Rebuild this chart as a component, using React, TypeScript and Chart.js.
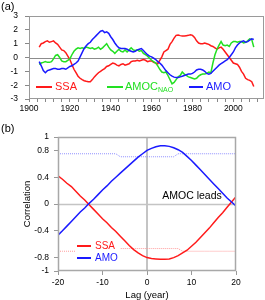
import React, { useEffect, useRef } from "react";
import { Chart, registerables } from "chart.js";

Chart.register(...registerables);

const FONT = "'Liberation Sans', Arial, Helvetica, sans-serif";

// ---------- Panel (a): time series 1905-2010 ----------
const START_YEAR = 1905;
const SSA_TS = [
  0.75, 1.0, 1.05, 1.15, 1.2, 1.1, 1.15, 1.2, 1.05, 0.95,
  0.75, 0.55, 0.5, 0.35, 0.1, -0.15, -0.5, -0.85, -1.1, -1.35,
  -1.5, -1.6, -1.68, -1.72, -1.75, -1.75, -1.6, -1.4, -1.25, -1.1,
  -1.0, -0.9, -0.8, -0.65, -0.6, -0.5, -0.4, -0.45, -0.55, -0.6,
  -0.5, -0.45, -0.55, -0.5, -0.45, -0.3, -0.25, -0.25, -0.2, -0.25,
  -0.2, -0.15, -0.2, -0.3, -0.25, -0.25, -0.35, -0.4, -0.45, -0.2,
  0.05, 0.4, 0.5, 0.6, 0.95, 1.15, 1.4, 1.6, 1.62, 1.58,
  1.55, 1.55, 1.58, 1.6, 1.65, 1.6, 1.45, 1.2, 1.05, 1.0,
  1.0, 1.05, 1.0, 0.95, 0.85, 0.8, 0.7, 0.6, 0.7, 0.75,
  0.6, 0.4, 0.2, 0.0, -0.2, -0.4, -0.45, -0.5, -0.7, -1.0,
  -1.2, -1.5, -1.6, -1.65, -1.75, -2.1,
];
const AMOC_NAO_TS = [
  -0.5, -0.4, -0.35, -0.3, -0.35, -0.35, -0.3, -0.1, 0.15, 0.2,
  0.0, -0.25, -0.3, -0.3, -0.2, -0.1, 0.2, 0.45, 0.6, 0.7,
  0.65, 0.7, 0.65, 0.75, 0.7, 0.65, 0.7, 0.6, 0.65, 0.75,
  0.6, 0.7, 0.85, 1.0, 0.75, 0.55, 0.45, 0.3, 0.45, 0.6,
  0.45, 0.4, 0.55, 0.4, 0.55, 0.7, 0.55, 0.5, 0.55, 0.45,
  0.5, 0.3, 0.2, 0.1, -0.05, -0.2, -0.3, -0.4, -0.6, -0.85,
  -1.05, -1.1, -1.05, -1.3, -1.6, -1.9, -1.8, -1.6, -1.4, -1.3,
  -1.05, -1.2, -1.3, -1.4, -1.45, -1.5, -1.55, -1.5, -1.35, -1.25,
  -1.2, -1.2, -1.15, -1.05, -1.1, -0.4, 0.2, 0.6, 0.9, 1.15,
  0.9, 0.85, 0.9, 0.8, 1.05, 1.15, 1.15, 1.1, 1.15, 1.15,
  1.05, 1.1, 1.2, 1.35, 1.3, 0.75,
];
const AMO_TS = [
  -0.3, -0.6, -0.95, -1.1, -0.95, -0.9, -0.85, -0.8, -0.8, -0.85,
  -0.85, -0.8, -0.8, -0.85, -0.75, -0.65, -0.6, -0.5, -0.4, -0.25,
  0.05, 0.35, 0.65, 0.85, 1.0, 1.1, 1.3, 1.45, 1.6, 1.75,
  1.9, 1.95, 1.8, 1.85, 1.75, 1.5, 1.3, 1.05, 0.85, 0.7,
  0.65, 0.65, 0.65, 0.6, 0.5, 0.45, 0.4, 0.45, 0.55, 0.6,
  0.65, 0.5, 0.35, 0.2, 0.1, 0.05, -0.05, -0.15, -0.3, -0.4,
  -0.55, -0.75, -0.95, -1.1, -1.25, -1.35, -1.42, -1.45, -1.45, -1.4,
  -1.35, -1.3, -1.25, -1.2, -1.2, -1.15, -1.05, -0.9, -0.85, -0.85,
  -0.9, -1.0, -1.15, -1.2, -1.15, -1.0, -0.85, -0.7, -0.55, -0.45,
  -0.35, -0.25, -0.15, 0.0, 0.2, 0.4, 0.7, 0.9, 1.05, 1.15,
  1.2, 1.1, 1.15, 1.25, 1.35, 1.3,
];
const YEARS = SSA_TS.map((_, i) => START_YEAR + i);
const YEAR_LABELS = [1900, 1920, 1940, 1960, 1980, 2000];
const YEAR_TICK_STEP = 4;

// ---------- Panel (b): lag correlation ----------
const LAGS = [
  -20, -19, -18, -17, -16, -15, -14, -13, -12, -11, -10, -9, -8, -7, -6, -5, -4, -3, -2, -1,
  0, 1, 2, 3, 4, 5, 6, 7, 8, 9, 10, 11, 12, 13, 14, 15, 16, 17, 18, 19, 20,
];
const SSA_CORR = [
  0.42, 0.37, 0.31, 0.26, 0.19, 0.12, 0.06, -0.01, -0.08, -0.15,
  -0.22, -0.28, -0.35, -0.41, -0.48, -0.55, -0.62, -0.68, -0.73, -0.77,
  -0.8, -0.815, -0.82, -0.825, -0.825, -0.82, -0.8, -0.77, -0.73, -0.69,
  -0.63, -0.57, -0.5, -0.43, -0.36, -0.28, -0.2, -0.13, -0.05, 0.03, 0.11,
];
const AMO_CORR = [
  -0.465, -0.4, -0.33, -0.26, -0.19, -0.12, -0.06, 0.01, 0.07, 0.14,
  0.21, 0.27, 0.34, 0.4, 0.46, 0.52, 0.58, 0.64, 0.7, 0.75,
  0.8, 0.83, 0.855, 0.87, 0.87, 0.86, 0.84, 0.81, 0.77, 0.71,
  0.65, 0.58, 0.51, 0.44, 0.37, 0.3, 0.23, 0.16, 0.09, 0.03, -0.03,
];
const AMO_SIG = [
  0.75, 0.75, 0.75, 0.75, 0.75, 0.75, 0.75, 0.75, 0.75, 0.75,
  0.75, 0.75, 0.75, 0.75, 0.705, 0.705, 0.705, 0.705, 0.705, 0.705,
  0.705, 0.705, 0.705, 0.705, 0.705, 0.705, 0.705, 0.75, 0.75, 0.75,
  0.75, 0.75, 0.75, 0.75, 0.75, 0.75, 0.75, 0.75, 0.75, 0.75, 0.75,
];
const SSA_SIG = [
  -0.705, -0.705, -0.705, -0.705, -0.705, -0.705, -0.705, -0.705, -0.705, -0.705,
  -0.705, -0.705, -0.705, -0.665, -0.665, -0.665, -0.665, -0.665, -0.665, -0.665,
  -0.665, -0.665, -0.665, -0.665, -0.665, -0.665, -0.665, -0.665, -0.705, -0.705,
  -0.705, -0.705, -0.705, -0.705, -0.705, -0.705, -0.705, -0.705, -0.705, -0.705, -0.705,
];
const CORR_TICKS = [-1, -0.8, -0.4, 0, 0.4, 0.8, 1];
const LAG_TICKS = [-20, -10, 0, 10, 20];

const RED = "#ff1a1a";
const GREEN = "#22e022";
const BLUE = "#1a1aff";

const pts = (xs: number[], ys: number[]) => xs.map((x, i) => ({ x, y: ys[i] }));

const tickFont = { family: FONT, size: 8.5 };

const topDecor = {
  id: "topDecor",
  beforeDatasetsDraw(chart: any) {
    const { ctx, chartArea, scales } = chart;
    const y0 = Math.round(scales.y.getPixelForValue(0)) + 0.5;
    ctx.save();
    ctx.strokeStyle = "#8c8c8c";
    ctx.lineWidth = 1;
    ctx.beginPath();
    ctx.moveTo(chartArea.left, y0);
    ctx.lineTo(chartArea.right, y0);
    ctx.stroke();
    ctx.restore();
  },
  afterDraw(chart: any) {
    const { ctx, chartArea } = chart;
    const { left, right, top, bottom } = chartArea;
    ctx.save();
    ctx.strokeStyle = "#9a9a9a";
    ctx.lineWidth = 1;
    ctx.strokeRect(left + 0.5, top + 0.5, right - left - 1, bottom - top - 1);
    ctx.fillStyle = "#000";
    ctx.font = `11px ${FONT}`;
    ctx.textBaseline = "middle";
    ctx.textAlign = "left";
    ctx.fillText("(a)", 1, 7);
    // legend
    const ly = 87;
    const items = [
      { c: RED, x0: 36, x1: 52, tx: 55, t: "SSA", sub: "" },
      { c: GREEN, x0: 107, x1: 123, tx: 125, t: "AMOC", sub: "NAO" },
      { c: BLUE, x0: 189, x1: 203, tx: 206, t: "AMO", sub: "" },
    ];
    items.forEach((it) => {
      ctx.strokeStyle = it.c;
      ctx.lineWidth = 2;
      ctx.beginPath();
      ctx.moveTo(it.x0, ly);
      ctx.lineTo(it.x1, ly);
      ctx.stroke();
      ctx.fillStyle = it.c;
      ctx.font = `11px ${FONT}`;
      ctx.fillText(it.t, it.tx, ly);
      if (it.sub) {
        const w = ctx.measureText(it.t).width;
        ctx.font = `7px ${FONT}`;
        ctx.fillText(it.sub, it.tx + w, ly + 3.5);
      }
    });
    ctx.restore();
  },
};

const bottomDecor = {
  id: "bottomDecor",
  beforeDatasetsDraw(chart: any) {
    const { ctx, chartArea, scales } = chart;
    const y0 = Math.round(scales.y.getPixelForValue(0)) + 0.5;
    const x0 = Math.round(scales.x.getPixelForValue(0));
    ctx.save();
    ctx.strokeStyle = "#c4c4c4";
    ctx.lineWidth = 1.5;
    ctx.beginPath();
    ctx.moveTo(chartArea.left, y0);
    ctx.lineTo(chartArea.right, y0);
    ctx.stroke();
    ctx.lineWidth = 2;
    ctx.beginPath();
    ctx.moveTo(x0, chartArea.top);
    ctx.lineTo(x0, chartArea.bottom);
    ctx.stroke();
    ctx.restore();
  },
  afterDraw(chart: any) {
    const { ctx, chartArea } = chart;
    const { left, right, top, bottom } = chartArea;
    ctx.save();
    ctx.strokeStyle = "#a8a8a8";
    ctx.lineWidth = 1.5;
    ctx.strokeRect(left + 0.5, top + 0.5, right - left - 1, bottom - top - 1);
    ctx.fillStyle = "#000";
    ctx.font = `11px ${FONT}`;
    ctx.textBaseline = "middle";
    ctx.textAlign = "left";
    ctx.fillText("(b)", 1, 11);
    ctx.font = `10.5px ${FONT}`;
    ctx.textAlign = "center";
    ctx.fillText("AMOC leads", 192, 78);
    ctx.font = `9.5px ${FONT}`;
    ctx.fillText("Lag (year)", 147, 177);
    ctx.save();
    ctx.translate(27, 86);
    ctx.rotate(-Math.PI / 2);
    ctx.fillText("Correlation", 0, 0);
    ctx.restore();
    // legend with white background
    ctx.fillStyle = "#fff";
    ctx.fillRect(75, 121, 45, 26);
    ctx.textAlign = "left";
    ctx.font = `10px ${FONT}`;
    const items = [
      { c: RED, y: 128, t: "SSA" },
      { c: BLUE, y: 140, t: "AMO" },
    ];
    items.forEach((it) => {
      ctx.strokeStyle = it.c;
      ctx.lineWidth = 2;
      ctx.beginPath();
      ctx.moveTo(77, it.y);
      ctx.lineTo(91, it.y);
      ctx.stroke();
      ctx.fillStyle = it.c;
      ctx.fillText(it.t, 95, it.y);
    });
    ctx.restore();
  },
};

function TopChart() {
  const ref = useRef<HTMLCanvasElement | null>(null);
  useEffect(() => {
    if (!ref.current) return;
    const chart = new Chart(ref.current, {
      type: "line",
      data: {
        datasets: [
          { label: "AMO", data: pts(YEARS, AMO_TS), borderColor: BLUE, borderWidth: 1.5, pointRadius: 0, tension: 0 },
          { label: "AMOC_NAO", data: pts(YEARS, AMOC_NAO_TS), borderColor: GREEN, borderWidth: 1.5, pointRadius: 0, tension: 0 },
          { label: "SSA", data: pts(YEARS, SSA_TS), borderColor: RED, borderWidth: 1.5, pointRadius: 0, tension: 0 },
        ],
      },
      options: {
        animation: false,
        responsive: false,
        devicePixelRatio: 1,
        layout: { padding: { left: 0, right: 1, top: 16, bottom: 0 } },
        plugins: { legend: { display: false }, tooltip: { enabled: false } },
        scales: {
          x: {
            type: "linear",
            min: 1900,
            max: 2015,
            afterBuildTicks: (s: any) => {
              const t: { value: number }[] = [];
              for (let v = s.min; v <= s.max; v += YEAR_TICK_STEP) t.push({ value: v });
              s.ticks = t;
            },
            ticks: {
              autoSkip: false,
              maxRotation: 0,
              padding: 2,
              color: "#000",
              font: tickFont,
              callback: (v: any) => (YEAR_LABELS.includes(Number(v)) ? String(v) : ""),
            },
            grid: { drawOnChartArea: false, tickLength: 3, color: "#888" },
            border: { display: false },
            afterFit: (s: any) => {
              s.height = 19;
            },
          },
          y: {
            min: -3,
            max: 3,
            ticks: { stepSize: 1, padding: 7, color: "#000", font: tickFont },
            grid: { drawOnChartArea: false, tickLength: 4, color: "#888" },
            border: { display: false },
            afterFit: (s: any) => {
              s.width = 29;
            },
          },
        },
      } as any,
      plugins: [topDecor],
    });
    return () => chart.destroy();
  }, []);
  return <canvas ref={ref} width={265} height={118} style={{ display: "block" }} />;
}

function BottomChart() {
  const ref = useRef<HTMLCanvasElement | null>(null);
  useEffect(() => {
    if (!ref.current) return;
    const chart = new Chart(ref.current, {
      type: "line",
      data: {
        datasets: [
          { label: "AMO", data: pts(LAGS, AMO_CORR), borderColor: BLUE, borderWidth: 1.5, pointRadius: 0, tension: 0 },
          { label: "SSA", data: pts(LAGS, SSA_CORR), borderColor: RED, borderWidth: 1.5, pointRadius: 0, tension: 0 },
          { label: "AMO sig", data: pts(LAGS, AMO_SIG), borderColor: "#8f8fff", borderWidth: 1, borderDash: [1, 1], pointRadius: 0, tension: 0 },
          { label: "SSA sig", data: pts(LAGS, SSA_SIG), borderColor: "#ff9a9a", borderWidth: 1, borderDash: [1, 1], pointRadius: 0, tension: 0 },
        ],
      },
      options: {
        animation: false,
        responsive: false,
        devicePixelRatio: 1,
        layout: { padding: { left: 0, right: 29, top: 19, bottom: 0 } },
        plugins: { legend: { display: false }, tooltip: { enabled: false } },
        scales: {
          x: {
            type: "linear",
            min: -20,
            max: 20,
            afterBuildTicks: (s: any) => {
              s.ticks = LAG_TICKS.map((v) => ({ value: v }));
            },
            ticks: { autoSkip: false, maxRotation: 0, padding: 3, color: "#000", font: tickFont },
            grid: { drawOnChartArea: false, tickLength: 4, color: "#999" },
            border: { display: false },
            afterFit: (s: any) => {
              s.height = 29;
            },
          },
          y: {
            min: -1,
            max: 1,
            afterBuildTicks: (s: any) => {
              s.ticks = CORR_TICKS.map((v) => ({ value: v }));
            },
            ticks: { padding: 5, color: "#000", font: tickFont, callback: (v: any) => String(v) },
            grid: { drawOnChartArea: false, tickLength: 4, color: "#999" },
            border: { display: false },
            afterFit: (s: any) => {
              s.width = 58;
            },
          },
        },
      } as any,
      plugins: [bottomDecor],
    });
    return () => chart.destroy();
  }, []);
  return <canvas ref={ref} width={265} height={182} style={{ display: "block" }} />;
}

export default function App() {
  return (
    <div style={{ position: "absolute", left: 0, top: 0, width: 265, height: 300, background: "#fff" }}>
      <TopChart />
      <BottomChart />
    </div>
  );
}
